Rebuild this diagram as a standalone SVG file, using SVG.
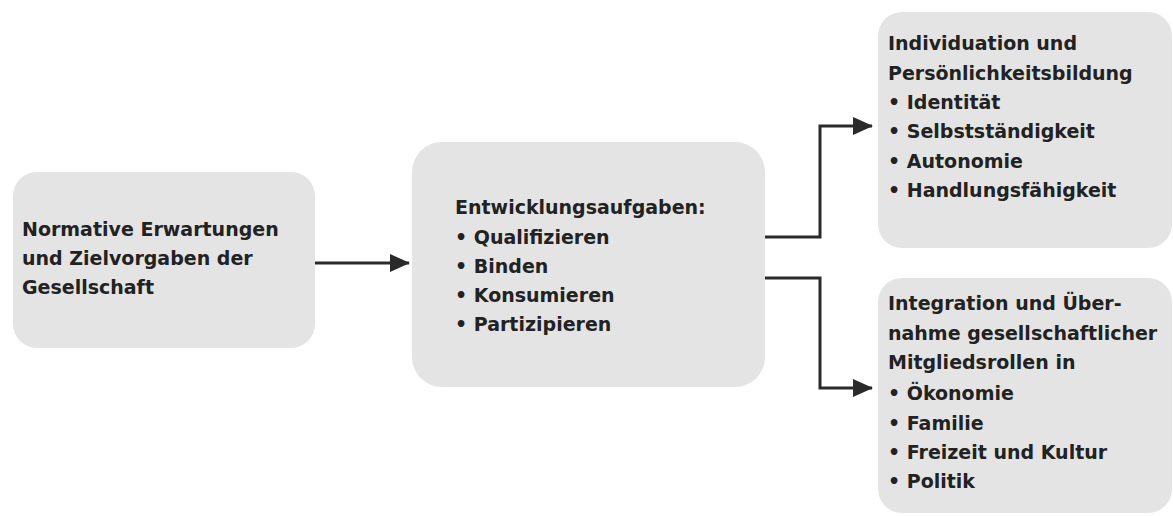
<svg xmlns="http://www.w3.org/2000/svg" width="1173" height="516" viewBox="0 0 1173 516">
  <defs>
    <style>
      .box { fill: #e4e4e4; }
      .lbl { font-family: "DejaVu Sans", "Liberation Sans", sans-serif; font-weight: bold; font-size: 19px; fill: #222222; }
      .conn { fill: none; stroke: #2a2a2a; stroke-width: 3; }
    </style>
    <marker id="arrow" viewBox="0 0 20 18" refX="19" refY="9" markerWidth="20" markerHeight="18" markerUnits="userSpaceOnUse" orient="auto">
      <path d="M0,0 L20,9 L0,18 Z" fill="#2a2a2a"/>
    </marker>
  </defs>
  <rect width="1173" height="516" fill="#ffffff"/>

  <g id="node-erwartungen">
    <rect class="box" x="13" y="172" width="302" height="176" rx="24"/>
    <text class="lbl" x="22" y="236">Normative Erwartungen</text>
    <text class="lbl" x="22" y="265">und Zielvorgaben der</text>
    <text class="lbl" x="22" y="294">Gesellschaft</text>
  </g>

  <g id="node-entwicklungsaufgaben">
    <rect class="box" x="412" y="142" width="353" height="245" rx="30"/>
    <text class="lbl" x="455" y="214">Entwicklungsaufgaben:</text>
    <text class="lbl" x="455" y="244">• Qualifizieren</text>
    <text class="lbl" x="455" y="273">• Binden</text>
    <text class="lbl" x="455" y="302">• Konsumieren</text>
    <text class="lbl" x="455" y="331">• Partizipieren</text>
  </g>

  <g id="node-individuation">
    <rect class="box" x="878" y="12" width="294" height="236" rx="24"/>
    <text class="lbl" x="888" y="50">Individuation und</text>
    <text class="lbl" x="888" y="80">Persönlichkeitsbildung</text>
    <text class="lbl" x="888" y="109">• Identität</text>
    <text class="lbl" x="888" y="138">• Selbstständigkeit</text>
    <text class="lbl" x="888" y="168">• Autonomie</text>
    <text class="lbl" x="888" y="197">• Handlungsfähigkeit</text>
  </g>

  <g id="node-integration">
    <rect class="box" x="878" y="278" width="294" height="235" rx="24"/>
    <text class="lbl" x="888" y="310">Integration und Über-</text>
    <text class="lbl" x="888" y="340">nahme gesellschaftlicher</text>
    <text class="lbl" x="888" y="369">Mitgliedsrollen in</text>
    <text class="lbl" x="888" y="400">• Ökonomie</text>
    <text class="lbl" x="888" y="430">• Familie</text>
    <text class="lbl" x="888" y="459">• Freizeit und Kultur</text>
    <text class="lbl" x="888" y="488">• Politik</text>
  </g>

  <g id="connectors">
    <path class="conn" d="M315,263 H409" marker-end="url(#arrow)"/>
    <path class="conn" d="M765,237 H820 V126 H872" marker-end="url(#arrow)"/>
    <path class="conn" d="M765,278 H820 V388 H872" marker-end="url(#arrow)"/>
  </g>
</svg>
